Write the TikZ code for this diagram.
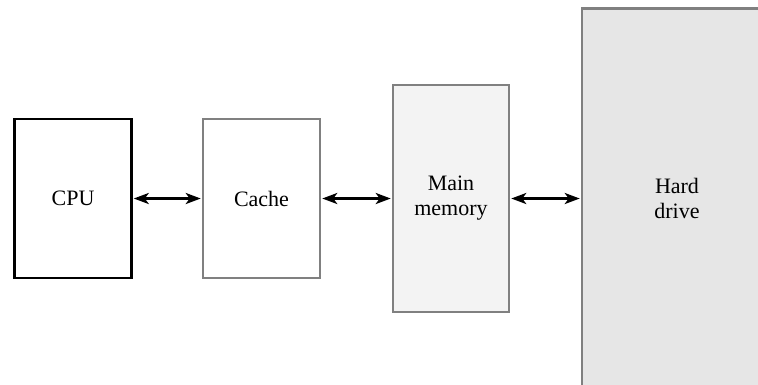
\documentclass[tikz,border=0pt]{standalone}
\usepackage{fontspec}
\setmainfont{Liberation Serif}
\usetikzlibrary{arrows.meta}
\definecolor{boxgray}{RGB}{128,128,128}
\definecolor{memfill}{RGB}{243,243,243}
\definecolor{diskfill}{RGB}{230,230,230}

\tikzset{
  unitbox/.style={draw=boxgray, line width=2.5pt, fill=white, inner sep=0pt,
    align=center, font=\fontsize{22}{25}\selectfont},
  biarrow/.style={line width=2.6pt, {Stealth[length=15pt,width=11pt,inset=4pt]}-{Stealth[length=15pt,width=11pt,inset=4pt]}, shorten <=1pt, shorten >=1pt}
}

\begin{document}
\begin{tikzpicture}[x=1pt, y=-1pt]
    % Frame of the picture
    \clip (0,0) rectangle (758,384);

    % Memory hierarchy boxes
    \node[unitbox, draw=black, minimum width=117pt, minimum height=159pt] (cpu) at (73,198.5) {CPU};
    \node[unitbox, minimum width=117pt, minimum height=159pt] (cache) at (261.5,198.5) {Cache};
    \node[unitbox, fill=memfill, minimum width=116pt, minimum height=227pt] (mem) at (451,198.5) {Main\\memory};
    \node[unitbox, fill=diskfill, minimum width=190pt, minimum height=380pt] (disk) at (677,198.5) {Hard\\drive};

    % Links
    \draw[biarrow] (cpu) -- (cache);
    \draw[biarrow] (cache) -- (mem);
    \draw[biarrow] (mem) -- (disk);
\end{tikzpicture}
\end{document}
